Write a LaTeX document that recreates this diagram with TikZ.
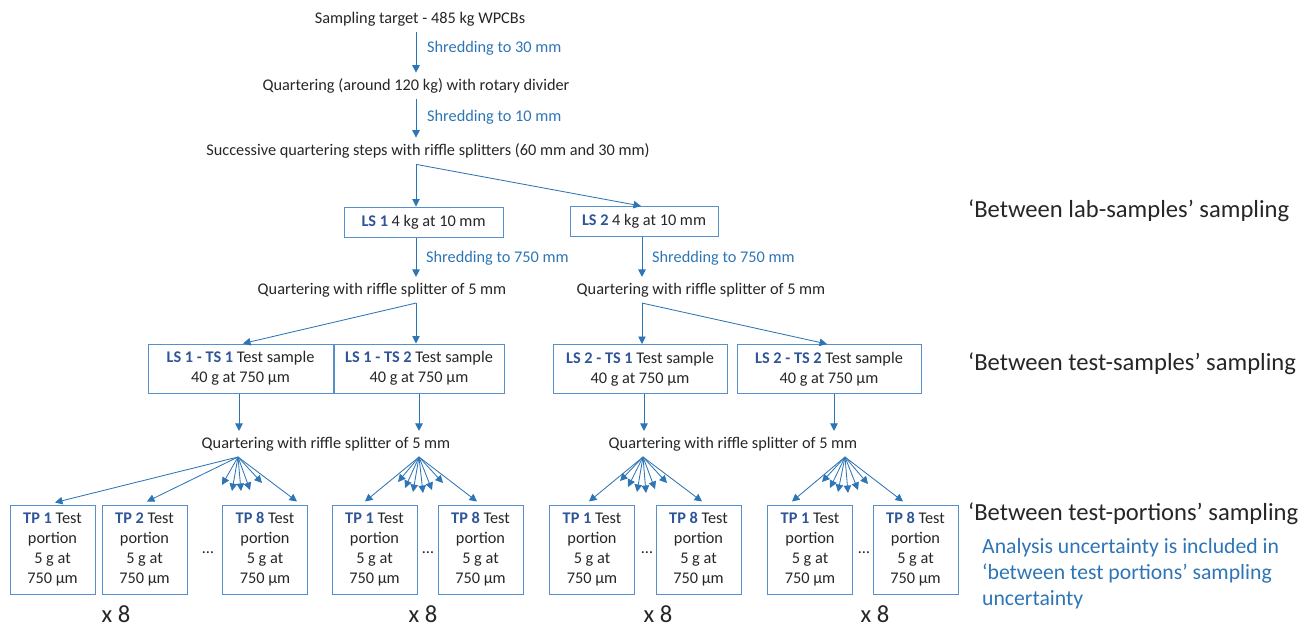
\documentclass[tikz,border=0pt]{standalone}
\usepackage{fontspec}
\setmainfont{Carlito}
\usetikzlibrary{arrows.meta,calc}
\definecolor{txt}{HTML}{262626}
\definecolor{arrc}{HTML}{2E75B6}
\definecolor{boxc}{HTML}{5590CC}
\definecolor{lsb}{HTML}{2F5597}
\definecolor{bluetxt}{HTML}{2E75B6}
\newcommand{\fsmain}{\fontsize{16.3}{20}\selectfont}
\newcommand{\fsbig}{\fontsize{24.6}{28}\selectfont}
\newcommand{\fsnote}{\fontsize{21.7}{26}\selectfont}
\newcommand{\lbl}[1]{\textbf{\color{lsb}#1}}
\newcommand{\tptext}[1]{\lbl{TP #1} Test\\portion\\5 g at\\750 µm}
\begin{document}
\begin{tikzpicture}[x=1pt,y=-1pt,
  every node/.style={text=txt, font=\fsmain},
  lab/.style={inner sep=0pt, outer ysep=6pt},
  shred/.style={text=bluetxt, inner sep=0pt, anchor=west},
  boxbase/.style={draw=boxc, line width=1pt, align=center, inner sep=0pt},
  lsbox/.style={boxbase, minimum height=30pt},
  tsbox/.style={boxbase, minimum height=49pt},
  tpbox/.style={boxbase, minimum height=89pt, minimum width=85pt},
  arr/.style={draw=arrc, line width=0.85pt, -{Triangle[length=7.5pt,width=7.5pt]}},
  side/.style={font=\fsbig, anchor=base west, inner sep=0pt},
  note/.style={font=\fsnote, text=bluetxt, anchor=base west, inner sep=0pt},
  times/.style={font=\fsbig, inner sep=0pt},
  dots/.style={inner sep=0pt}
]
\useasboundingbox (0,0) rectangle (1309,627);

% top chain
\node[lab] (t0) at (420,19) {Sampling target - 485 kg WPCBs};
\node[lab] (q1) at (416,86) {Quartering (around 120 kg) with rotary divider};
\node[lab] (q2) at (428,151) {Successive quartering steps with riffle splitters (60 mm and 30 mm)};
\draw[arr] (t0.south -| q1) -- (q1.north);
\node[shred] (s1) at (427,48) {Shredding to 30 mm};
\draw[arr] (q1.south) -- (q1.south |- q2.north);
\node[shred] (s2) at (427,117) {Shredding to 10 mm};

% lab samples
\node[lsbox, minimum width=159pt] (LS1) at (423.5,222) {\lbl{LS 1} 4 kg at 10 mm};
\node[lsbox, minimum width=148pt] (LS2) at (644,221.5) {\lbl{LS 2} 4 kg at 10 mm};
\coordinate (j1) at (q2.south -| q1);
\draw[arr] (j1) -- (j1 |- LS1.north);
\draw[arr] (j1) -- ([xshift=-3pt]LS2.north);

\node[lab] (qL) at (382,290) {Quartering with riffle splitter of 5 mm};
\node[lab] (qR) at (701,290) {Quartering with riffle splitter of 5 mm};
\draw[arr] (LS1.south -| j1) -- (j1 |- qL.north);
\node[shred] (s3) at (426,258) {Shredding to 750 mm};
\coordinate (k2) at (642,0);
\draw[arr] (LS2.south -| k2) -- (k2 |- qR.north);
\node[shred] (s4) at (652,258) {Shredding to 750 mm};

% test samples
\node[tsbox, minimum width=185pt] (TS11) at (240.5,368.5) {\lbl{LS 1 - TS 1} Test sample\\40 g at 750 µm};
\node[tsbox, minimum width=170pt] (TS12) at (419,368.5) {\lbl{LS 1 - TS 2} Test sample\\40 g at 750 µm};
\node[tsbox, minimum width=174pt] (TS21) at (640,369) {\lbl{LS 2 - TS 1} Test sample\\40 g at 750 µm};
\node[tsbox, minimum width=184pt] (TS22) at (829,369) {\lbl{LS 2 - TS 2} Test sample\\40 g at 750 µm};

\coordinate (j2) at (qL.south -| j1);
\draw[arr] (j2) -- (j2 |- TS12.north);
\draw[arr] (j2) -- ([xshift=2.5pt]TS11.north);
\coordinate (j3) at (qR.south -| k2);
\draw[arr] (j3) -- (j3 |- TS21.north);
\draw[arr] (j3) -- ([xshift=-2pt]TS22.north);

\node[lab] (q3) at (326,444) {Quartering with riffle splitter of 5 mm};
\node[lab] (q4) at (733,444) {Quartering with riffle splitter of 5 mm};
\draw[arr] ([xshift=-1.5pt]TS11.south) -- ([xshift=-1.5pt]TS11.south |- q3.north);
\draw[arr] (TS12.south) -- (TS12.south |- q3.north);
\draw[arr] ([xshift=4pt]TS21.south) -- ([xshift=4pt]TS21.south |- q4.north);
\draw[arr] ([xshift=5pt]TS22.south) -- ([xshift=5pt]TS22.south |- q4.north);

% test portions
\node[tpbox] (P11) at (52.5,549.5) {\tptext{1}};
\node[tpbox] (P12) at (144.5,549.5) {\tptext{2}};
\node[tpbox] (P18) at (265,549.5) {\tptext{8}};
\node[tpbox] (P21) at (374.5,549.5) {\tptext{1}};
\node[tpbox] (P28) at (480.5,549.5) {\tptext{8}};
\node[tpbox] (P31) at (592,549.5) {\tptext{1}};
\node[tpbox] (P38) at (698.5,549.5) {\tptext{8}};
\node[tpbox] (P41) at (810,549.5) {\tptext{1}};
\node[tpbox] (P48) at (915.5,549.5) {\tptext{8}};

\node[dots] (d1) at (208,553) {…};
\node[dots] (d2) at (428,553) {…};
\node[dots] (d3) at (647,553) {…};
\node[dots] (d4) at (864,553) {…};

\coordinate (f1) at (238,457);
\coordinate (f2) at (419,457);
\coordinate (f3) at (643,457);
\coordinate (f4) at (845,457);

\draw[arr] (f1) -- ($(P11.north)+(2.5,-2)$);
\draw[arr] (f1) -- ($(P12.north)+(2.5,-3)$);
\draw[arr] (f1) -- ($(P18.north)+(32,-3)$);
\foreach \i/\dx/\dy in {1/-16/28, 2/-6/34, 3/3/34, 4/12/33, 5/24/26} {
  \coordinate (e1\i) at ($(f1)+(\dx,\dy)$);
  \draw[arr] (f1) -- (e1\i);
}
\draw[arr] (f2) -- ($(P21.north)+(-9.5,-3)$);
\draw[arr] (f2) -- ($(P28.north)+(-3.5,-3)$);
\foreach \i/\dx/\dy in {1/-21/25, 2/-14/31, 3/-6/35, 4/4/36, 5/13/33, 6/24/26} {
  \coordinate (e2\i) at ($(f2)+(\dx,\dy)$);
  \draw[arr] (f2) -- (e2\i);
}
\draw[arr] (f3) -- ($(P31.north)+(-3,-3)$);
\draw[arr] (f3) -- ($(P38.north)+(3.5,-3)$);
\foreach \i/\dx/\dy in {1/-23/24, 2/-15/30, 3/-6/35, 4/3/36, 5/12/32, 6/24/26} {
  \coordinate (e3\i) at ($(f3)+(\dx,\dy)$);
  \draw[arr] (f3) -- (e3\i);
}
\draw[arr] (f4) -- ($(P41.north)+(-18,-3)$);
\draw[arr] (f4) -- ($(P48.north)+(-12.5,-3)$);
\foreach \i/\dx/\dy in {1/-23/25, 2/-15/31, 3/-7/35, 4/3/36, 5/13/33, 6/23/27} {
  \coordinate (e4\i) at ($(f4)+(\dx,\dy)$);
  \draw[arr] (f4) -- (e4\i);
}

\node[times] (x1) at (116,614.5) {x 8};
\node[times] (x2) at (423,614.5) {x 8};
\node[times] (x3) at (658,614.5) {x 8};
\node[times] (x4) at (875,614.5) {x 8};

% side labels
\node[side] (b1) at (968,217.5) {‘Between lab-samples’ sampling};
\node[side] (b2) at (968,370.5) {‘Between test-samples’ sampling};
\node[side] (b3) at (968,520.5) {‘Between test-portions’ sampling};
\node[note] (n1) at (982,553.5) {Analysis uncertainty is included in};
\node[note] (n2) at (982,579.5) {‘between test portions’ sampling};
\node[note] (n3) at (982,605.5) {uncertainty};
\end{tikzpicture}
\end{document}
